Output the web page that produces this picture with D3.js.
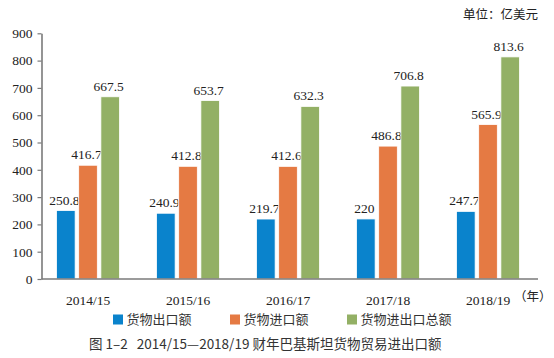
<!DOCTYPE html>
<html><head><meta charset="utf-8">
<script src="https://cdn.jsdelivr.net/npm/d3@7"></script>
<style>html,body{margin:0;padding:0;background:#fff;}svg{display:block;}</style>
</head><body>
<svg id="c" width="554" height="358"></svg>
<script>
const categories = ["2014/15","2015/16","2016/17","2017/18","2018/19"];
const seriesNames = ["货物出口额","货物进口额","货物进出口总额"];
const exportsVals = [250.8, 240.9, 219.7, 220, 247.7];
const importsVals = [416.7, 412.8, 412.6, 486.8, 565.9];
const totalVals = [667.5, 653.7, 632.3, 706.8, 813.6];
const yTicks = [0,100,200,300,400,500,600,700,800,900];
const colors = ["#0a83cc","#e57a43","#93b065"];

const series = [exportsVals, importsVals, totalVals];
const svg = d3.select("#c");
const serif = "'Liberation Serif','Times New Roman',serif";
const cjk = "'Noto Sans CJK SC','Noto Sans',sans-serif";

const x = d3.scaleBand().domain(categories).range([38,538]);
const xs = d3.scaleBand().domain(d3.range(3)).range([-31.5,31.5]).paddingInner(0.16);
const y = d3.scaleLinear().domain([0,900]).range([279,33.3]);

// axes
const yAxis = d3.axisLeft(y).tickValues(yTicks).tickSize(4).tickSizeOuter(0).tickPadding(5);
const gy = svg.append("g").attr("transform","translate(41.5,0)").call(yAxis);
gy.select(".domain").attr("stroke","#7a7a7a").attr("stroke-width",1.6);
gy.selectAll(".tick line").attr("stroke","#7a7a7a").attr("stroke-width",1.2);
gy.selectAll(".tick text").attr("font-family",serif).attr("font-size",13.5).attr("fill","#222");

// bars
categories.forEach((c,i)=>{
  series.forEach((s,j)=>{
    const bx = x(c)+x.bandwidth()/2+xs(j);
    svg.append("rect").attr("x",bx).attr("y",y(s[i])).attr("width",xs.bandwidth())
      .attr("height",y(0)-y(s[i])).attr("fill",colors[j]).attr("stroke","#fff").attr("stroke-width",0.8);
    svg.append("text").attr("x",bx+xs.bandwidth()/2-1.5).attr("y",y(s[i])-6)
      .attr("text-anchor","middle").attr("font-family",serif).attr("font-size",13.5).attr("fill","#222")
      .text(String(s[i]));
  });
});

// x axis line
svg.append("line").attr("x1",41.5).attr("x2",538).attr("y1",y(0)).attr("y2",y(0))
  .attr("stroke","#7a7a7a").attr("stroke-width",1.6);

// category labels
const xAxis = d3.axisBottom(x).tickSize(0).tickPadding(16);
const gx = svg.append("g").attr("transform",`translate(0,${y(0)})`).call(xAxis);
gx.select(".domain").remove();
gx.selectAll(".tick text").attr("font-family",serif).attr("font-size",13.5).attr("fill","#222");

svg.append("text").attr("x",514).attr("y",301).attr("font-family",cjk).attr("font-size",12.5).attr("fill","#222").text("（年）");

// unit
svg.append("text").attr("x",538).attr("y",19).attr("text-anchor","end").attr("font-family",cjk).attr("font-size",12.5).attr("fill","#222").text("单位：亿美元");

// legend
const legendX = [113, 230, 347];
seriesNames.forEach((n,j)=>{
  svg.append("rect").attr("x",legendX[j]).attr("y",314.5).attr("width",10).attr("height",10).attr("fill",colors[j]);
  svg.append("text").attr("x",legendX[j]+13.5).attr("y",324).attr("font-family",cjk).attr("font-size",13).attr("fill","#333").text(n);
});

// caption
svg.append("text").attr("x",89).attr("y",348.5).attr("font-family",cjk).attr("font-size",13.5).attr("fill","#333")
  .style("white-space","pre").text("图 1–2   2014/15—2018/19 财年巴基斯坦货物贸易进出口额");
</script>
</body></html>
